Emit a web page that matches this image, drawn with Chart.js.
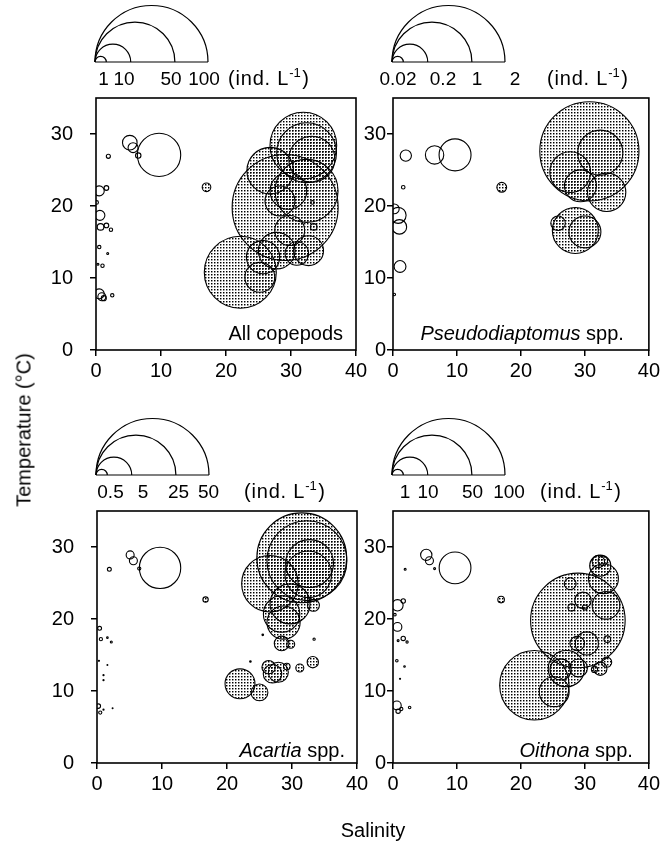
<!DOCTYPE html>
<html>
<head>
<meta charset="utf-8">
<title>Copepod abundance vs salinity and temperature</title>
<script src="https://cdn.jsdelivr.net/npm/chart.js@4.4.1/dist/chart.umd.min.js"></script>
<style>
  html, body { margin: 0; padding: 0; background: #fff; }
  #wrap { position: relative; width: 663px; height: 854px; overflow: hidden;
          font-family: "Liberation Sans", Arial, sans-serif; color: #000; }
  #wrap canvas { position: absolute; left: 0; top: 0; }
  .axis-title { position: absolute; font-size: 20px; white-space: nowrap;
                transform: translate(-50%, -50%); }
  #ytitle { left: 24px; top: 430px; transform: translate(-50%, -50%) rotate(-90deg); }
  #xtitle { left: 373px; top: 830px; }
</style>
</head>
<body>
<div id="wrap">
  <canvas id="cAll" width="663" height="854"></canvas>
  <canvas id="cPseudo" width="663" height="854"></canvas>
  <canvas id="cAcartia" width="663" height="854"></canvas>
  <canvas id="cOithona" width="663" height="854"></canvas>
  <div class="axis-title" id="ytitle">Temperature (°C)</div>
  <div class="axis-title" id="xtitle">Salinity</div>
</div>
<script>
// ---- axis ticks ----
const salinityTicks = [0, 10, 20, 30, 40];
const temperatureTicks = [0, 10, 20, 30];

// ---- All copepods (ind. L-1) ----
const allSal  = [5.2, 5.7, 6.5, 9.7, 1.9, 0.5, 1.6, 0.1, 0.6, 0.7, 1.6, 2.3, 0.5, 1.8, 1.0, 0.3, 0.5, 0.9, 1.2, 2.5,
                 17.0, 29.1, 22.2, 31.9, 32.4, 33.2, 26.8, 32.4, 29.6, 28.3, 29.8, 25.7, 27.8, 32.7, 30.9, 25.2, 33.3, 33.5];
const allTemp = [28.8, 28.1, 27.0, 27.1, 26.9, 22.1, 22.5, 20.5, 18.7, 17.1, 17.3, 16.7, 14.3, 13.4, 11.7, 11.9, 7.8, 7.4, 7.2, 7.6,
                 22.6, 19.8, 10.8, 28.4, 27.4, 26.5, 24.9, 22.1, 22.1, 20.7, 16.6, 12.9, 13.8, 13.8, 13.4, 10.1, 20.5, 17.1];
const allDens = [1.67, 0.78, 0.23, 14.7, 0.13, 0.78, 0.17, 0.1, 0.78, 0.34, 0.17, 0.09, 0.09, 0.03, 0.09, 0.03, 0.78, 0.5, 0.2, 0.09,
                 0.58, 88, 40.6, 34.8, 28, 16.6, 17, 31, 10.5, 7, 7, 8.7, 10.5, 7, 4.3, 7, 0.1, 0.34];

// ---- Pseudodiaptomus spp. ----
const pseudoSal  = [2.0, 6.5, 9.7, 1.6, 0.8, 1.0, 1.1, 0.2, 0.2, 17.0, 30.7, 32.4, 27.7, 29.3, 33.4, 28.5, 30.0, 25.8];
const pseudoTemp = [27.0, 27.1, 27.1, 22.6, 18.7, 17.1, 11.6, 7.7, 19.6, 22.6, 27.6, 27.4, 24.7, 22.8, 21.9, 16.6, 16.4, 17.6];
const pseudoDens = [0.02, 0.053, 0.16, 0.002, 0.04, 0.033, 0.022, 0.001, 0.015, 0.015, 1.54, 0.32, 0.26, 0.16, 0.23, 0.33, 0.16, 0.033];

// ---- Acartia spp. ----
const acartiaSal  = [5.1, 5.6, 6.5, 9.7, 1.9, 0.4, 0.6, 1.6, 2.2, 0.3, 1.0, 1.0, 1.6, 0.2, 0.5, 1.0, 2.4,
                     16.7, 31.5, 32.3, 32.7, 32.5, 26.6, 29.7, 28.4, 28.7, 33.3, 28.4, 29.8, 33.4, 25.5, 22.0, 25.0, 26.4, 27.0, 27.9, 29.2, 31.2, 33.2, 23.6];
const acartiaTemp = [28.9, 28.1, 27.0, 27.1, 26.9, 18.7, 17.2, 17.4, 16.8, 14.2, 12.2, 11.5, 13.6, 7.9, 7.0, 7.4, 7.6,
                     22.7, 28.5, 28.1, 27.7, 26.2, 24.9, 22.1, 20.7, 19.5, 21.9, 16.6, 16.5, 17.2, 17.8, 11.0, 9.8, 13.3, 12.4, 12.6, 13.4, 13.2, 14.0, 14.1];
const acartiaDens = [0.25, 0.25, 0.04, 6.7, 0.06, 0.06, 0.04, 0.01, 0.015, 0.005, 0.005, 0.005, 0.003, 0.08, 0.04, 0.005, 0.003,
                     0.11, 31.6, 25, 9, 8.5, 12.5, 6.25, 5.2, 4.3, 0.56, 0.84, 0.25, 0.02, 0.01, 3.5, 1.1, 0.7, 1.35, 1.56, 0.17, 0.25, 0.5, 0.01];

// ---- Oithona spp. ----
const oithonaSal  = [5.2, 5.7, 6.5, 9.7, 1.9, 0.7, 1.6, 0.3, 0.7, 1.6, 2.2, 0.8, 0.6, 1.8, 1.1, 0.6, 0.8, 1.3, 2.6,
                     16.9, 28.9, 22.1, 25.2, 32.4, 32.1, 32.8, 32.9, 27.7, 29.7, 33.3, 27.9, 30.0, 30.3, 28.8, 33.5, 27.1, 26.2, 29.0, 32.4, 33.4, 31.5];
const oithonaTemp = [28.9, 28.1, 27.0, 27.1, 26.9, 21.9, 22.5, 20.6, 18.9, 17.3, 16.8, 17.0, 14.2, 13.4, 11.7, 8.0, 7.2, 7.5, 7.7,
                     22.7, 19.8, 10.8, 9.9, 27.4, 28.0, 28.1, 25.6, 24.9, 22.6, 21.9, 21.6, 21.6, 16.6, 16.6, 17.2, 13.1, 13.0, 13.2, 13.1, 14.0, 13.0];
const oithonaDens = [1.0, 0.5, 0.03, 7.9, 0.03, 1.0, 0.15, 0.05, 0.6, 0.15, 0.04, 0.03, 0.05, 0.02, 0.01, 0.6, 0.15, 0.08, 0.05,
                     0.34, 70, 37.7, 7, 3.5, 1.2, 0.7, 7, 1.1, 2.1, 6, 0.4, 0.2, 4.2, 1.65, 0.34, 10.3, 3.5, 2.5, 1.4, 0.8, 0.3];

// ---- size-key values (ind. L-1) ----
const allKey     = [1, 10, 50, 100];
const pseudoKey  = [0.02, 0.2, 1, 2];
const acartiaKey = [0.5, 5, 25, 50];
const oithonaKey = [1, 10, 50, 100];

// ---- drawing constants ----
const FONT = '"Liberation Sans", Arial, sans-serif';
const KEY_MAX_RADIUS = 56.5;      // radius of the largest key circle, px
const MARINE_SALINITY = 15;       // stations above this are drawn stippled

// stipple used for the higher-salinity stations
function makeStipple() {
  const c = document.createElement('canvas');
  c.width = 3; c.height = 3;
  const g = c.getContext('2d');
  g.fillStyle = '#000';
  g.fillRect(1, 1, 1, 1);
  g.fillStyle = 'rgba(0,0,0,0.45)';
  g.fillRect(2, 1, 1, 1);
  g.fillRect(1, 2, 1, 1);
  g.fillStyle = 'rgba(0,0,0,0.2)';
  g.fillRect(2, 2, 1, 1);
  return g.createPattern(c, 'repeat');
}
const stipple = makeStipple();

function toPoints(sal, temp, dens) {
  return sal.map((s, i) => ({ x: s, y: temp[i], v: dens[i] }));
}

// draws the frame, the half-circle size key and the panel label
const panelDecor = {
  id: 'panelDecor',
  afterDraw(chart, args, opts) {
    const ctx = chart.ctx;
    const a = chart.chartArea;
    ctx.save();
    // frame
    ctx.strokeStyle = '#000';
    ctx.lineWidth = 1.6;
    ctx.strokeRect(a.left, a.top, a.right - a.left, a.bottom - a.top);

    // size key
    const keyVals = opts.keyValues;
    const rad = opts.radiusOf;
    const x0 = a.left - 1;
    const yBase = a.top - 36;
    const rMax = rad(keyVals[keyVals.length - 1]);
    ctx.lineWidth = 1.2;
    ctx.beginPath();
    ctx.moveTo(x0, yBase);
    ctx.lineTo(x0 + 2 * rMax, yBase);
    ctx.stroke();
    keyVals.forEach(v => {
      const r = rad(v);
      ctx.beginPath();
      ctx.arc(x0 + r, yBase, r, Math.PI, 2 * Math.PI);
      ctx.stroke();
    });
    // key labels
    ctx.fillStyle = '#000';
    ctx.textBaseline = 'alphabetic';
    ctx.font = '19px ' + FONT;
    ctx.textAlign = 'center';
    const ly = yBase + 23;
    keyVals.forEach((v, i) => {
      ctx.fillText(String(v), x0 + opts.keyLabelX[i], ly);
    });
    // unit label with superscript
    ctx.textAlign = 'left';
    ctx.font = '20px ' + FONT;
    ctx.letterSpacing = '0.8px';
    let ux = x0 + opts.unitX;
    const part1 = '(ind. L';
    ctx.fillText(part1, ux, ly);
    ux += ctx.measureText(part1).width;
    ctx.font = '13px ' + FONT;
    ctx.letterSpacing = '0px';
    ctx.fillText('-1', ux, ly - 8);
    ux += ctx.measureText('-1').width + 1.5;
    ctx.font = '20px ' + FONT;
    ctx.fillText(')', ux, ly);

    // panel label, right aligned inside the plot
    let width = 0;
    opts.label.forEach(p => {
      ctx.font = (p.italic ? 'italic ' : '') + '20px ' + FONT;
      width += ctx.measureText(p.text).width;
    });
    let tx = a.right - opts.labelRight - width;
    const ty = a.bottom - opts.labelBottom;
    opts.label.forEach(p => {
      ctx.font = (p.italic ? 'italic ' : '') + '20px ' + FONT;
      ctx.fillText(p.text, tx, ty);
      tx += ctx.measureText(p.text).width;
    });
    ctx.restore();
  }
};

const Y_AXIS_W = 80;
const X_AXIS_H = 50;
const PAGE_W = 663, PAGE_H = 854;

function buildPanel(canvasId, points, keyValues, area, deco) {
  const keyMax = keyValues[keyValues.length - 1];
  const radiusOf = v => KEY_MAX_RADIUS * Math.sqrt(v / keyMax);
  const tickFont = { family: FONT, size: 20 };
  const gridStyle = {
    display: true, drawOnChartArea: false, drawTicks: true,
    tickLength: 6, color: '#000', lineWidth: 1.5
  };
  return new Chart(document.getElementById(canvasId), {
    type: 'bubble',
    data: {
      datasets: [{
        data: points,
        borderColor: '#000',
        borderWidth: 1.1,
        hoverBorderWidth: 1.1,
        backgroundColor: c => (c.raw && c.raw.x >= MARINE_SALINITY) ? stipple : 'rgba(0,0,0,0)',
        radius: c => (c.raw ? radiusOf(c.raw.v) : 0),
        hoverRadius: 0
      }]
    },
    options: {
      responsive: false,
      animation: false,
      events: [],
      layout: {
        autoPadding: false,
        padding: {
          left: area.left - Y_AXIS_W,
          top: area.top,
          right: PAGE_W - area.right,
          bottom: PAGE_H - area.bottom - X_AXIS_H
        }
      },
      plugins: {
        legend: { display: false },
        tooltip: { enabled: false },
        panelDecor: Object.assign({ keyValues, radiusOf }, deco)
      },
      scales: {
        x: {
          type: 'linear', min: 0, max: 40,
          afterBuildTicks: s => { s.ticks = salinityTicks.map(v => ({ value: v })); },
          afterFit: s => { s.height = X_AXIS_H; },
          grid: gridStyle,
          border: { display: false },
          ticks: { font: tickFont, color: '#000', padding: 3, maxRotation: 0 }
        },
        y: {
          type: 'linear', min: 0, max: 35,
          afterBuildTicks: s => { s.ticks = temperatureTicks.map(v => ({ value: v })); },
          afterFit: s => { s.width = Y_AXIS_W; },
          grid: gridStyle,
          border: { display: false },
          ticks: { font: tickFont, color: '#000', padding: deco.yLabelPad }
        }
      }
    },
    plugins: [panelDecor]
  });
}

buildPanel('cAll', toPoints(allSal, allTemp, allDens), allKey,
  { left: 96, top: 98, right: 356, bottom: 350 },
  { keyLabelX: [8.5, 29, 76, 109], unitX: 133, labelRight: 13, labelBottom: 10, yLabelPad: 17,
    label: [{ text: 'All copepods', italic: false }] });

buildPanel('cPseudo', toPoints(pseudoSal, pseudoTemp, pseudoDens), pseudoKey,
  { left: 393, top: 98, right: 653, bottom: 350 },
  { keyLabelX: [6, 51, 85, 123], unitX: 155, labelRight: 25, labelBottom: 10, yLabelPad: 1,
    label: [{ text: 'Pseudodiaptomus', italic: true }, { text: ' spp.', italic: false }] });

buildPanel('cAcartia', toPoints(acartiaSal, acartiaTemp, acartiaDens), acartiaKey,
  { left: 97, top: 511, right: 357, bottom: 763 },
  { keyLabelX: [14.5, 47, 82.5, 112.5], unitX: 148, labelRight: 12, labelBottom: 6, yLabelPad: 17,
    label: [{ text: 'Acartia', italic: true }, { text: ' spp.', italic: false }] });

buildPanel('cOithona', toPoints(oithonaSal, oithonaTemp, oithonaDens), oithonaKey,
  { left: 393, top: 511, right: 653, bottom: 763 },
  { keyLabelX: [13, 36, 80.5, 117], unitX: 148, labelRight: 16, labelBottom: 6, yLabelPad: 1,
    label: [{ text: 'Oithona', italic: true }, { text: ' spp.', italic: false }] });
</script>
</body>
</html>
